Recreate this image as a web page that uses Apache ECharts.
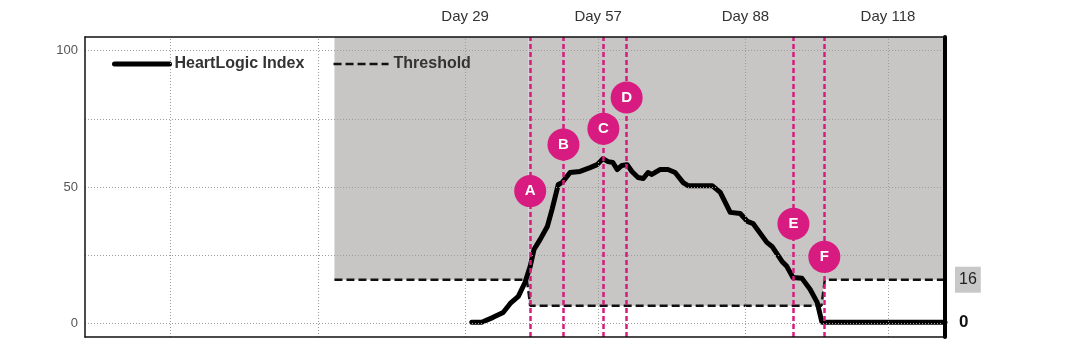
<!DOCTYPE html>
<html><head><meta charset="utf-8">
<script src="https://cdn.jsdelivr.net/npm/echarts@6/dist/echarts.min.js"></script>
<style>html,body{margin:0;padding:0;background:#fff}#c{width:1070px;height:353px}</style>
</head><body><div id="c"></div>
<script>
// ---- data (x = day, y = index) ----
const heartDays   = [30.4, 32.5, 34.9, 37.0, 38.5, 40.2, 41.6, 42.7, 43.5, 44.8, 46.3, 47.3, 48.6, 49.4, 51.1, 53.2, 55.3, 56.8, 58.0, 59.1, 60.1, 61.0, 62.0, 63.1, 64.1, 65.4, 66.5, 67.5, 68.3, 70.0, 71.7, 73.2, 74.9, 75.9, 81.0, 82.7, 84.8, 86.9, 88.4, 89.6, 92.5, 93.6, 95.7, 96.7, 98.0, 99.9, 101.6, 103.1, 104.1, 130];
const heartValues = [0.4, 0.4, 2.2, 4.0, 7.3, 9.9, 15.0, 20.9, 27.1, 30.8, 35.5, 41.8, 50.9, 51.6, 55.3, 55.7, 57.1, 58.2, 60.4, 59.3, 59.0, 56.4, 57.9, 58.2, 55.7, 53.5, 53.1, 55.3, 54.6, 56.4, 56.4, 55.3, 51.6, 50.5, 50.5, 48.0, 40.7, 40.3, 37.4, 36.6, 29.7, 28.2, 22.7, 20.9, 16.8, 16.5, 12.5, 7.7, 0.4, 0.4];
const thresholdDays   = [1.5, 42.0, 42.7, 104.0, 104.7, 130];
const thresholdValues = [16, 16, 6.5, 6.5, 16, 16];
const eventLabels = ['A', 'B', 'C', 'D', 'E', 'F'];
const eventDays   = [42.7, 49.7, 58.1, 63.0, 98.1, 104.6];
const eventMarkerValues = [48.5, 65.6, 71.4, 82.8, 36.5, 24.4];
const monthGridDays = [-33, -2, 29, 57, 88, 118];
const dayTickLabels = [29, 57, 88, 118];
const yGridValues = [0, 25, 50, 75, 100];
const yTickLabels = [0, 50, 100];
const xMin = -51, xMax = 130, yMin = -5, yMax = 105;

const FONT = '"Liberation Sans", Arial, sans-serif';
const PINK = '#d81b80';

const heartData = heartDays.map((d, i) => [d, heartValues[i]]);
const thresholdData = thresholdDays.map((d, i) => [d, thresholdValues[i]]);
const eventData = eventDays.map((d, i) => [d, eventMarkerValues[i], eventLabels[i]]);

// shaded region = above threshold, from first threshold day to end
const shadeAreas = [];
for (let i = 0; i < thresholdData.length - 1; i += 2) {
  const x0 = i === 0 ? thresholdDays[0] : (thresholdDays[i - 1] + thresholdDays[i]) / 2;
  const x1 = i + 2 < thresholdDays.length ? (thresholdDays[i + 1] + thresholdDays[i + 2]) / 2 : thresholdDays[i + 1];
  shadeAreas.push([{ coord: [x0, thresholdValues[i]] }, { coord: [x1, yMax] }]);
}

const chart = echarts.init(document.getElementById('c'), null, { renderer: 'canvas' });
chart.setOption({
  animation: false,
  backgroundColor: '#fff',
  textStyle: { fontFamily: FONT },
  grid: { left: 85, right: 125, top: 37, bottom: 16 },
  legend: {
    left: 112, top: 56, padding: 0, itemWidth: 55, itemHeight: 14, itemGap: 28,
    itemStyle: { opacity: 0 },
    textStyle: { fontSize: 16, fontWeight: 'bold', color: '#333', fontFamily: FONT },
    data: [
      { name: 'HeartLogic Index', lineStyle: { width: 5, color: '#000', type: 'solid' } },
      { name: 'Threshold', lineStyle: { width: 2.5, color: '#111', type: [8, 4] } }
    ],
    selectedMode: false
  },
  xAxis: [
    { type: 'value', position: 'bottom', min: xMin, max: xMax, z: 10,
      axisLine: { show: true, onZero: false, lineStyle: { color: '#111', width: 1.5 } },
      axisTick: { show: false }, axisLabel: { show: false }, splitLine: { show: false } },
    { type: 'value', position: 'top', min: xMin, max: xMax, z: 10,
      axisLine: { show: true, onZero: false, lineStyle: { color: '#111', width: 1.5 } },
      axisTick: { show: false }, splitLine: { show: false },
      axisLabel: { show: true, customValues: dayTickLabels, formatter: v => 'Day ' + v,
        fontSize: 15, color: '#333', margin: 13, fontFamily: FONT } }
  ],
  yAxis: [
    { type: 'value', position: 'left', min: yMin, max: yMax, z: 10,
      axisLine: { show: true, onZero: false, lineStyle: { color: '#111', width: 1.5 } },
      axisTick: { show: false }, splitLine: { show: false },
      axisLabel: { show: true, customValues: yTickLabels, fontSize: 13, color: '#555', margin: 7, fontFamily: FONT } },
    { type: 'value', position: 'right', min: yMin, max: yMax, z: 10,
      axisLine: { show: true, onZero: false, lineStyle: { color: '#000', width: 4 } },
      axisTick: { show: false }, axisLabel: { show: false }, splitLine: { show: false } }
  ],
  series: [
    { name: 'shade', type: 'line', data: [], z: 1, silent: true,
      markArea: { silent: true, itemStyle: { color: '#c7c6c4' }, data: shadeAreas } },
    { name: 'gridlines', type: 'line', data: [], z: 2, silent: true,
      markLine: { silent: true, symbol: ['none', 'none'], label: { show: false },
        lineStyle: { color: '#9c9c9c', width: 1, type: [1, 2] },
        data: monthGridDays.map(d => ({ xAxis: d })).concat(yGridValues.map(v => ({ yAxis: v }))) } },
    { name: 'Threshold', type: 'line', data: thresholdData, z: 3, symbol: 'none', silent: true,
      lineStyle: { color: '#111', width: 2.5, type: [8, 4] },
      itemStyle: { color: '#111' },
      endLabel: { show: true, formatter: p => String(p.value[1]), distance: 10,
        backgroundColor: '#c8c8c8', padding: [5, 4], fontSize: 16, color: '#222', fontFamily: FONT } },
    { name: 'HeartLogic Index', type: 'line', data: heartData, z: 4, symbol: 'none', silent: true,
      lineStyle: { color: '#000', width: 5, cap: 'round', join: 'round' },
      itemStyle: { color: '#000' },
      endLabel: { show: true, formatter: p => String(Math.round(p.value[1])), distance: 14,
        fontSize: 17, fontWeight: 'bold', color: '#111', fontFamily: FONT } },
    { name: 'events', type: 'line', data: [], z: 5, silent: true,
      markLine: { silent: true, symbol: ['none', 'none'], label: { show: false },
        lineStyle: { color: PINK, width: 2.5, type: [5, 3] },
        data: eventDays.map(d => ({ xAxis: d })) } },
    { name: 'eventMarkers', type: 'scatter', data: eventData, z: 6, silent: true,
      symbol: 'circle', symbolSize: 32, itemStyle: { color: PINK, opacity: 1 },
      label: { show: true, position: 'inside', formatter: p => p.data[2],
        color: '#fff', fontWeight: 'bold', fontSize: 15, fontFamily: FONT } }
  ]
});
</script>
</body></html>
